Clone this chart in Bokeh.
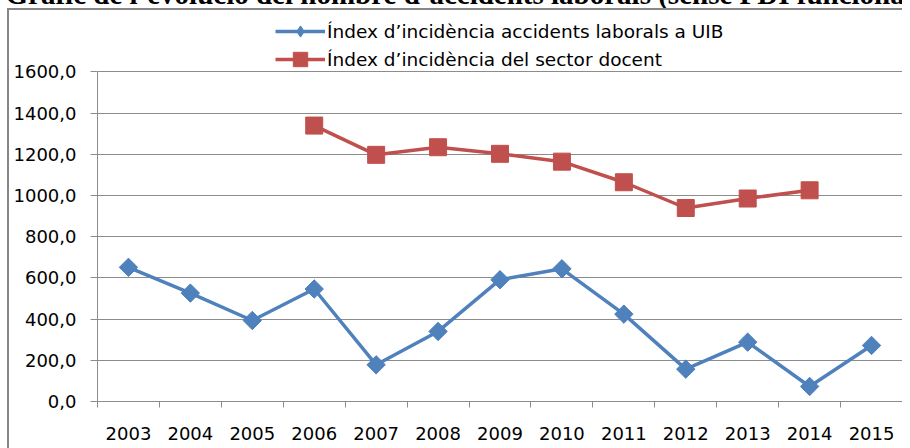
import math
from bokeh.plotting import figure
from bokeh.models import Range1d, FixedTicker, Legend, LegendItem, InlineStyleSheet
from bokeh.embed import file_html
from bokeh.resources import INLINE

# ---- data ----
years = [2003, 2004, 2005, 2006, 2007, 2008, 2009, 2010, 2011, 2012, 2013, 2014, 2015]
uib_index = [651, 526, 393, 546, 178, 340, 591, 644, 424, 157, 288, 73, 272]
docent_years = [2006, 2007, 2008, 2009, 2010, 2011, 2012, 2013, 2014]
docent_index = [1339, 1197, 1234, 1202, 1164, 1064, 939, 985, 1025]
y_ticks = [0, 200, 400, 600, 800, 1000, 1200, 1400, 1600]
y_tick_labels = ["0,0", "200,0", "400,0", "600,0", "800,0", "1000,0", "1200,0", "1400,0", "1600,0"]
title_text = "Gràfic de l’evolució del nombre d’accidents laborals (sense PDI funcionari)"
label_uib = "Índex d’incidència accidents laborals a UIB"
label_docent = "Índex d’incidència del sector docent"

BLUE = "#4F81BD"
RED = "#C0504D"
GRID = "#8C8C8C"
FONT = "DejaVu Sans"

W, H = 910, 487
B_LEFT, B_RIGHT, B_TOP, B_BOTTOM = 105, 0, 50, 49
AXIS_PX = 329.7            # pixel height of the 0..1600 scale
frame_h = H - B_TOP - B_BOTTOM
y_top = y_ticks[-1] * frame_h / AXIS_PX   # room above 1600 for the legend

p = figure(width=W, height=H, output_backend="svg", toolbar_location=None,
           x_range=Range1d(years[0] - 0.5, years[-1] + 0.5), y_range=Range1d(0, y_top),
           min_border_left=B_LEFT, min_border_right=B_RIGHT, min_border_top=B_TOP,
           min_border_bottom=B_BOTTOM,
           background_fill_color="white", border_fill_color="white",
           title=title_text)
p.margin = (-37, 0, -30, -8)
p.outline_line_color = None
p.stylesheets = [InlineStyleSheet(css="""
:host { position: relative; }
:host::before { content: ""; position: absolute; left: 15px; top: 45px; right: 0px; bottom: 0px;
  border-left: 2px solid #868686; border-top: 2px solid #868686; pointer-events: none; z-index: 10; }
""")]

p.title.text_font = "Liberation Serif"
p.title.text_font_style = "bold"
p.title.text_font_size = "29px"
p.title.text_color = "black"
p.title.standoff = 8
p.title.vertical_align = "bottom"
p.title.align = "left"
p.title.offset = -92

# x axis: labels at year centres, tick marks between categories
p.xgrid.visible = False
p.xaxis.ticker = FixedTicker(ticks=years, minor_ticks=[y - 0.5 for y in years] + [years[-1] + 0.5])
p.xaxis.major_tick_out = 0
p.xaxis.major_tick_in = 0
p.xaxis.minor_tick_out = 6
p.xaxis.minor_tick_in = 0
p.xaxis.minor_tick_line_color = GRID
p.xaxis.axis_line_color = GRID
p.xaxis.major_label_text_font = FONT
p.xaxis.major_label_text_font_size = "18px"
p.xaxis.major_label_text_color = "black"
p.xaxis.major_label_standoff = 19

# y axis
yt = FixedTicker(ticks=y_ticks, minor_ticks=[])
p.yaxis.ticker = yt
p.yaxis.bounds = (y_ticks[0], y_ticks[-1])
p.yaxis.major_label_overrides = dict(zip(y_ticks, y_tick_labels))
p.yaxis.major_tick_out = 7
p.yaxis.major_tick_in = 0
p.yaxis.minor_tick_out = 0
p.yaxis.minor_tick_in = 0
p.yaxis.major_tick_line_color = GRID
p.yaxis.axis_line_color = GRID
p.yaxis.major_label_text_font = FONT
p.yaxis.major_label_text_font_size = "18px"
p.yaxis.major_label_text_color = "black"
p.yaxis.major_label_standoff = 14
p.ygrid.ticker = yt
p.ygrid.grid_line_color = GRID
p.ygrid.grid_line_width = 1

# series
l1 = p.line(years, uib_index, line_color=BLUE, line_width=3.5, line_join="round")
# diamond renderer (hidden under the rotated squares) that supplies the legend swatch
s1_key = p.scatter(years, uib_index, marker="diamond", size=17,
                   fill_color=BLUE, line_color=BLUE)
s1 = p.scatter(years, uib_index, marker="square", angle=math.pi / 4, size=13,
               fill_color=BLUE, line_color=BLUE)
l2 = p.line(docent_years, docent_index, line_color=RED, line_width=3.5, line_join="round")
s2 = p.scatter(docent_years, docent_index, marker="square", size=17,
               fill_color=RED, line_color=RED)

common = dict(orientation="vertical", padding=0, margin=0, spacing=0, glyph_width=50,
              label_height=28, label_standoff=2, label_text_font=FONT,
              label_text_font_size="18.5px", label_text_color="black",
              border_line_color=None, background_fill_alpha=0)
legend_a = Legend(items=[LegendItem(label=label_uib, renderers=[l1, s1_key])],
                  location=(178, 356), glyph_height=28, **common)
legend_b = Legend(items=[LegendItem(label=label_docent, renderers=[l2, s2])],
                  location=(178, 324), glyph_height=36, **common)
p.add_layout(legend_a, "center")
p.add_layout(legend_b, "center")

open("out.html", "w").write(file_html(p, INLINE))
